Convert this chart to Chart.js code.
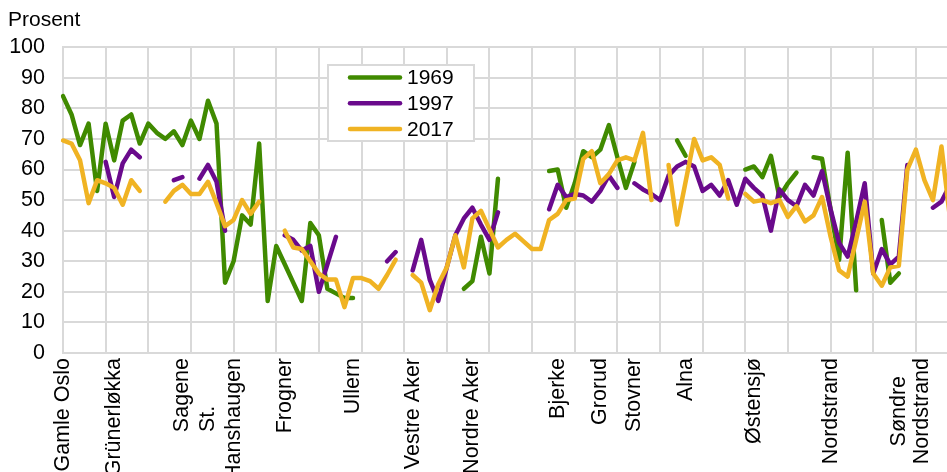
<!DOCTYPE html>
<html>
<head>
<meta charset="utf-8">
<style>
  html, body { margin: 0; padding: 0; background: #ffffff; width: 947px; height: 472px; overflow: hidden; }
  #wrap { position: relative; width: 962px; height: 560px; }
</style>
<script src="https://cdn.jsdelivr.net/npm/chart.js@4.4.1/dist/chart.umd.min.js"></script>
</head>
<body>
<div id="wrap"><canvas id="c" width="962" height="560"></canvas></div>
<script>
const NB = '\u00a0';
const categoryLabels = [
  'Gamle Oslo', '', '', '', '', '', 'Grünerløkka', '', '', '',
  '', '', '', '', 'Sagene', '', '', ['St.' + NB.repeat(8), 'Hanshaugen'], '', '',
  '', '', '', '', '', '', 'Frogner', '', '', '',
  '', '', '', '', 'Ullern', '', '', '', '', '',
  '', 'Vestre Aker', '', '', '', '', '', '', 'Nordre Aker', '',
  '', '', '', '', '', '', '', '', 'Bjerke', '',
  '', '', '', 'Grorud', '', '', '', 'Stovner', '', '',
  '', '', '', 'Alna', '', '', '', '', '', '',
  '', 'Østensjø', '', '', '', '', '', '', '', '',
  'Nordstrand', '', '', '', '', '', '', '', ['Søndre' + NB.repeat(3), 'Nordstrand'], '',
  '', '', '', '', ''
];

const seriesNames = ['1969', '1997', '2017'];

const values1969 = [
  84, 78, 68, 75, 53, 75, 63, 76, 78, 68.5,
  75, 72, 70, 72.5, 68, 76, 70, 82.5, 75, 23,
  30, 45, 42, 68.5, 17, 35, 29, 23, 17, 42.5,
  38.5, 21, 19.5, 18, 18, null, null, null, null, null,
  null, null, null, null, null, null, null, 21, 23.5, 38,
  26, 57, null, null, null, null, null, 59.5, 60, 47.5,
  55.5, 66, 64, 66.5, 74.5, 64, 54, 62.5, null, null,
  null, null, 69.5, 64.5, null, null, null, null, null, null,
  60, 61, 57.5, 64.5, 51, 55.5, 59, null, 64, 63.5,
  47, 30.5, 65.5, 20.5, null, null, 43.5, 23, 26, null,
  null, null, null, null, null
];

const values1997 = [
  null, null, null, null, null, 62.5, 51, 62, 66.5, 64,
  null, null, null, 56.5, 57.5, null, 57, 61.5, 56, 40,
  null, null, null, null, null, null, 38.5, 37, 33.5, 35,
  20, 29, 38, null, null, null, null, null, 30, 33,
  null, 27, 37, 24, 17, 28, 38.5, 44, 47.5, 42,
  37, 46, null, null, null, null, null, 47, 55, 51,
  52, 51.5, 49.5, 53, 58, 54, null, 55.5, 53.5, 52,
  50, 58, 61, 62.5, 61, 53, 55, 51.5, 56.5, 48.5,
  57, 54, 51.5, 40, 53.5, 50, 48, 55, 51.5, 59.5,
  47, 36, 31.5, 43, 55.5, 26, 34, 29, 31.5, 61.5,
  null, null, 47.5, 49.5, 55
];

const values2017 = [
  69.5, 68.5, 63, 49, 56.5, 55.5, 54, 48.5, 56.5, 53,
  null, null, 49.5, 53, 55, 52, 52, 56, 49, 41.5,
  43.5, 50, 45.5, 49.5, null, null, 40, 34.5, 34, 30,
  26, 24, 24, 15, 24.5, 24.5, 23.5, 21, 25.5, 30.5,
  null, 25.5, 23, 14, 22.5, 28, 38.5, 28, 44, 46.5,
  40.5, 34.5, 37, 39, 36.5, 34, 34, 43.5, 45.5, 50,
  50.5, 63.5, 66, 55.5, 58.5, 63, 64, 63, 72, 50,
  null, 61.5, 42, 56, 70, 63, 64, 61.5, 50.5, null,
  52, 49.5, 50, 49, 50, 44.5, 48, 43, 45, 51,
  38, 27, 25, 37, 49.5, 26, 22, 28, 28.5, 60,
  66.5, 56.5, 50, 67.5, 44
];

const yTickValues = [0, 10, 20, 30, 40, 50, 60, 70, 80, 90, 100];

const FONT = '"Liberation Sans", Arial, Helvetica, sans-serif';
Chart.defaults.font.family = FONT;
Chart.defaults.font.size = 21;
Chart.defaults.color = '#000000';

const GRID = '#d9d9d9';
const colors = ['#408a00', '#6a0a8c', '#f0b323'];

const legendBox = {
  id: 'legendBox',
  afterDraw(chart) {
    const ctx = chart.ctx;
    const x = 328, y = 65, w = 146, h = 76;
    ctx.save();
    ctx.fillStyle = '#ffffff';
    ctx.fillRect(x, y, w, h);
    ctx.strokeStyle = GRID;
    ctx.lineWidth = 2;
    ctx.strokeRect(x, y, w, h);
    chart.data.datasets.forEach((ds, k) => {
      const cy = 77.5 + k * 25.8;
      ctx.strokeStyle = ds.borderColor;
      ctx.lineWidth = 4.5;
      ctx.lineCap = 'round';
      ctx.beginPath();
      ctx.moveTo(350, cy);
      ctx.lineTo(400, cy);
      ctx.stroke();
      ctx.fillStyle = '#000000';
      ctx.font = '21px ' + FONT;
      ctx.textBaseline = 'middle';
      ctx.textAlign = 'left';
      ctx.fillText(ds.label, 407, cy + 1);
    });
    ctx.restore();
  }
};

const seriesValues = [values1969, values1997, values2017];
const drawOrder = [3, 2, 1];

new Chart(document.getElementById('c'), {
  type: 'line',
  data: {
    labels: categoryLabels,
    datasets: seriesNames.map((name, k) => ({
      label: name,
      data: seriesValues[k],
      borderColor: colors[k],
      backgroundColor: colors[k],
      borderWidth: 4.5,
      borderJoinStyle: 'round',
      borderCapStyle: 'round',
      pointRadius: 0,
      pointHoverRadius: 0,
      tension: 0,
      spanGaps: false,
      fill: false,
      order: drawOrder[k]
    }))
  },
  options: {
    responsive: false,
    animation: false,
    events: [],
    layout: { padding: { left: 8, right: 12, top: 0, bottom: 0 } },
    plugins: {
      legend: { display: false },
      tooltip: { enabled: false },
      title: {
        display: true,
        text: 'Prosent',
        align: 'start',
        color: '#000000',
        font: { size: 21, weight: 'normal', family: FONT },
        padding: { top: 8, bottom: 14 }
      }
    },
    scales: {
      x: {
        type: 'category',
        offset: false,
        ticks: {
          autoSkip: false,
          maxRotation: 90,
          minRotation: 90,
          padding: 5,
          color: '#000000',
          font: (c) => ({ size: 21.5, family: FONT, lineHeight: c.index === 17 ? 26 / 21.5 : 23 / 21.5 })
        },
        grid: {
          color: (c) => (c.index % 5 === 0 ? GRID : 'rgba(0,0,0,0)'),
          lineWidth: 2,
          drawTicks: false
        },
        border: { color: GRID, width: 2 },
        afterFit(s) { s.height = 560 - 353; s.paddingLeft = 0; s.paddingRight = 0; }
      },
      y: {
        min: 0,
        max: 100,
        afterBuildTicks(s) { s.ticks = yTickValues.map(v => ({ value: v })); },
        ticks: { padding: 18, color: '#000000', font: { size: 21.5, family: FONT } },
        grid: { color: GRID, lineWidth: 2, drawTicks: false },
        border: { color: GRID, width: 2 },
        afterFit(s) { s.width = 55; s.paddingTop = 0; s.paddingBottom = 0; }
      }
    }
  },
  plugins: [legendBox]
});
</script>
</body>
</html>
